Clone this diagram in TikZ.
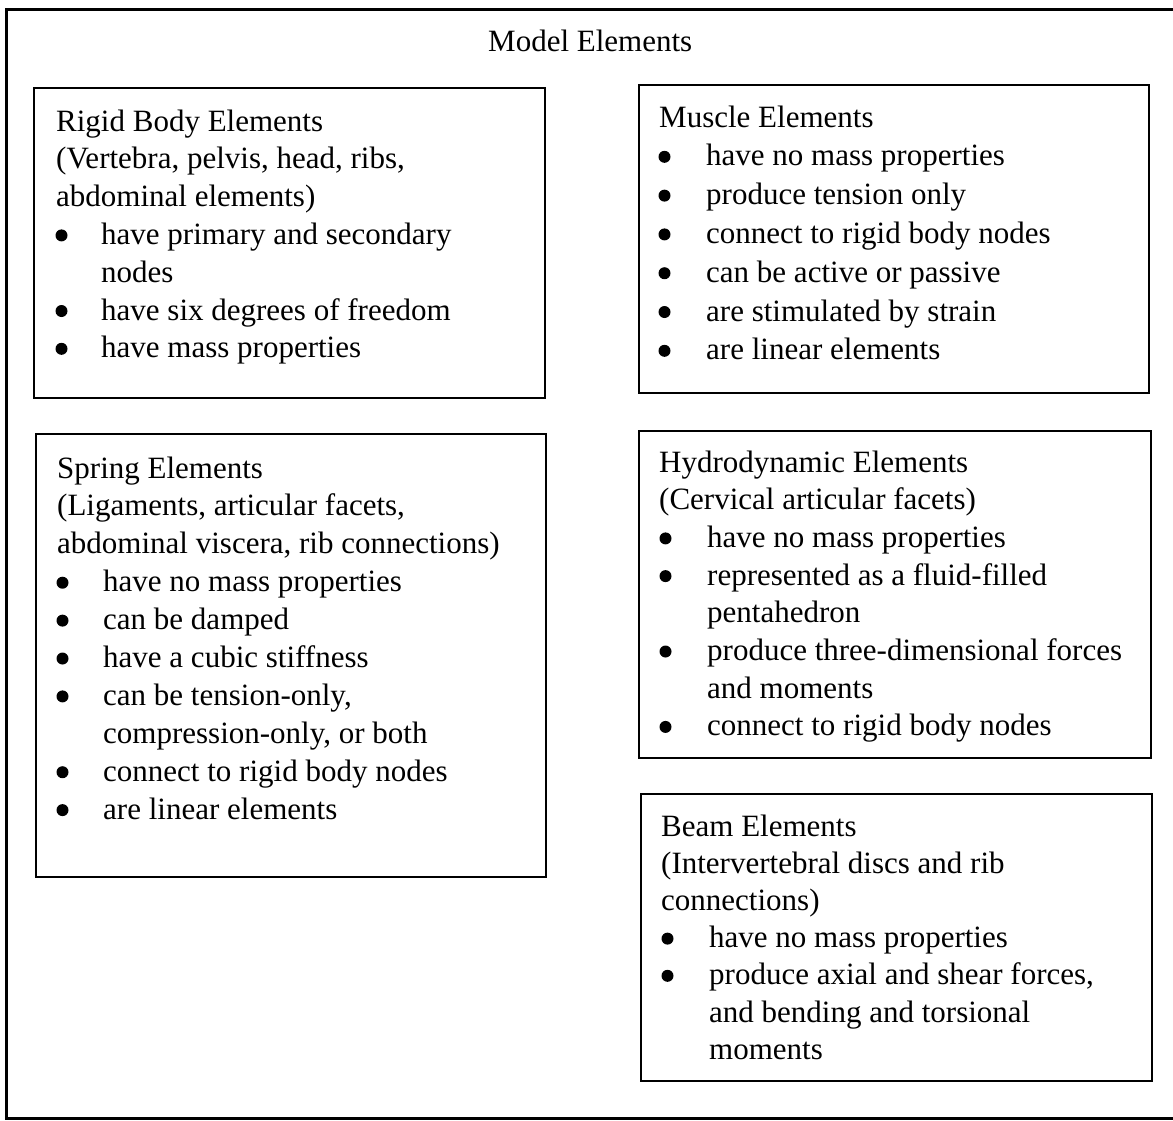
\documentclass[tikz,border=0pt]{standalone}
\usepackage{fontspec}
\setmainfont{Liberation Serif}
\newlength\bind
\newcommand\blin{\par\noindent\hbox to \bind{}}
\newcommand\clin{\par\noindent\hbox to \bind{}}
\newcommand\plin{\par\noindent}
\newcommand\btext[3]{\vtop{\hsize=500pt\parindent=0pt\parskip=0pt\baselineskip=#1pt\lineskiplimit=-100pt\rightskip=0pt plus 1fil\setlength\bind{#2pt}#3\par}}
\tikzset{
  panel/.style={draw, line width=2.5pt, inner sep=0pt, rectangle},
  outer/.style={draw, line width=3pt, inner sep=0pt, rectangle},
  txt/.style={anchor=base west, inner sep=0pt, font=\fontsize{31}{38}\selectfont},
  bulletdot/.style={fill=black}
}
% bullets: #1 = centre x, #2 = first baseline, #3 = line skip, #4 = list of line numbers
\newcommand\bullets[4]{\foreach \k in {#4} {\fill[bulletdot] ({#1},{#2+\k*#3-9}) circle (6pt);}}
\begin{document}
\begin{tikzpicture}[x=1pt,y=-1pt]
\useasboundingbox (0,0) rectangle (1173,1120);
\node[outer, minimum width=1174pt, minimum height=1109pt] (frame) at (593,563.5) {};
\node[txt] (title) at (488,51) {Model Elements};

\node[panel, minimum width=511pt, minimum height=310pt] (rigidbox) at (289.5,243) {};
\node[txt] (rigid) at (56,131) {\btext{37.8}{45}{%
\plin Rigid Body Elements
\plin (Vertebra, pelvis, head, ribs,
\plin abdominal elements)
\blin have primary and secondary
\clin nodes
\blin have six degrees of freedom
\blin have mass properties}};
\bullets{61.5}{131}{37.8}{3,5,6}

\node[panel, minimum width=510pt, minimum height=308pt] (musclebox) at (894,239) {};
\node[txt] (muscle) at (659,127) {\btext{38.8}{47}{%
\plin Muscle Elements
\blin have no mass properties
\blin produce tension only
\blin connect to rigid body nodes
\blin can be active or passive
\blin are stimulated by strain
\blin are linear elements}};
\bullets{664.5}{127}{38.8}{1,2,3,4,5,6}

\node[panel, minimum width=510pt, minimum height=443pt] (springbox) at (291,655.5) {};
\node[txt] (spring) at (57,478) {\btext{37.9}{46}{%
\plin Spring Elements
\plin (Ligaments, articular facets,
\plin abdominal viscera, rib connections)
\blin have no mass properties
\blin can be damped
\blin have a cubic stiffness
\blin can be tension-only,
\clin compression-only, or both
\blin connect to rigid body nodes
\blin are linear elements}};
\bullets{62.5}{478}{37.9}{3,4,5,6,8,9}

\node[panel, minimum width=512pt, minimum height=327pt] (hydrobox) at (895,594.5) {};
\node[txt] (hydro) at (659,472) {\btext{37.7}{48}{%
\plin Hydrodynamic Elements
\plin (Cervical articular facets)
\blin have no mass properties
\blin represented as a fluid-filled
\clin pentahedron
\blin produce three-dimensional forces
\clin and moments
\blin connect to rigid body nodes}};
\bullets{665.5}{472}{37.7}{2,3,5,7}

\node[panel, minimum width=511pt, minimum height=287pt] (beambox) at (896.5,937.5) {};
\node[txt] (beam) at (661,836) {\btext{37.2}{48}{%
\plin Beam Elements
\plin (Intervertebral discs and rib
\plin connections)
\blin have no mass properties
\blin produce axial and shear forces,
\clin and bending and torsional
\clin moments}};
\bullets{667.5}{836}{37.2}{3,4}
\end{tikzpicture}
\end{document}
